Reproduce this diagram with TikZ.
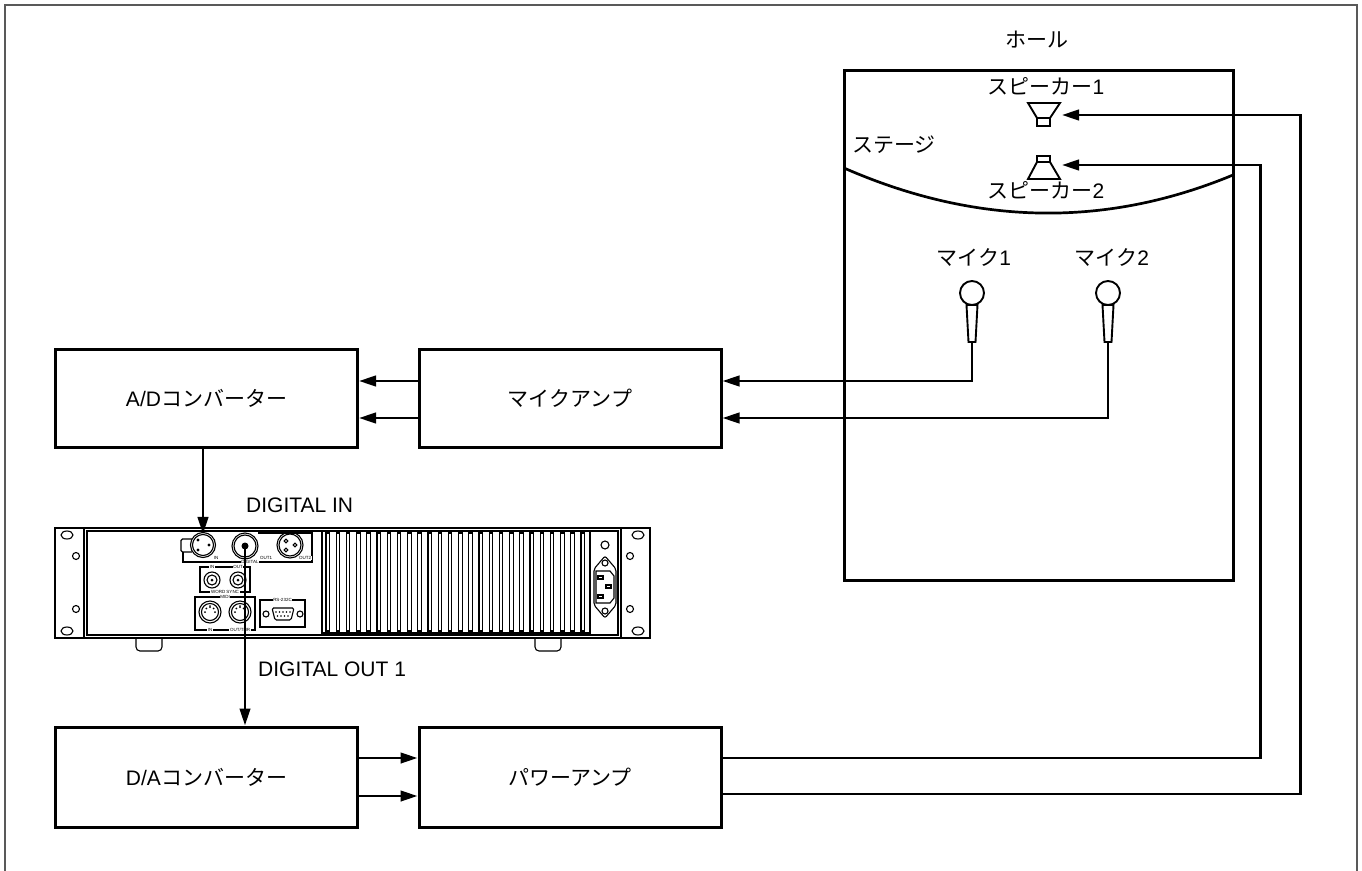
\documentclass[tikz,border=0pt]{standalone}
\usepackage{fontspec}
\setmainfont{Liberation Sans}
\newfontfamily\jp{Noto Sans CJK JP}
\usetikzlibrary{arrows.meta,calc}
\begin{document}
\begin{tikzpicture}[x=1pt,y=-1pt,
  blk/.style={draw,line width=3pt,minimum width=302pt,minimum height=98pt,inner sep=0pt,font=\fontsize{21}{24}\selectfont},
  wire/.style={line width=2.7pt},
  arr/.style={line width=2.7pt,-{Triangle[length=17pt,width=10.5pt]}},
  dev/.style={line width=1.1pt},
  sym/.style={line width=1.9pt},
  lbl/.style={font=\fontsize{21}{24}\selectfont,inner sep=0pt},
  tiny/.style={font=\fontsize{4.5}{5}\selectfont,inner sep=0.6pt,fill=white},
]
\useasboundingbox (0,0) rectangle (1362,870);
\draw[line width=2pt,draw=black!65] (5,880) -- (5,5) -- (1357,5) -- (1357,880);

% blocks
\node[blk] (ad) at (206.5,398) {A/D{\jp コンバーター}};
\node[blk] (micamp) at (570,398) {\jp マイクアンプ};
\node[blk,minimum height=100pt] (da) at (206.5,777) {D/A{\jp コンバーター}};
\node[blk,minimum height=100pt] (pa) at (570,777) {\jp パワーアンプ};

% hall
\node[draw,line width=3pt,minimum width=389pt,minimum height=510pt,inner sep=0pt] (hall) at (1038.5,325) {};
\node[lbl] (hallname) at (1037,40) {\jp ホール};
\draw[wire] (844,168) .. controls (975.7,225.7) and (1105.3,228) .. (1233,175);
\node[lbl] (stage) at (894,145) {\jp ステージ};

% speakers
\draw[sym] (1028,103) -- (1060,103) -- (1050,118) -- (1037,118) -- cycle;
\draw[sym] (1037,118) rectangle (1050,126);
\draw[sym] (1037,156) rectangle (1050,162);
\draw[sym] (1037,162) -- (1050,162) -- (1060,179) -- (1028,179) -- cycle;
\coordinate (s1) at (1062,115);
\coordinate (s2) at (1062,165);
\node[lbl] (sp1) at (1046,86) {{\jp スピーカー}1};
\node[lbl] (sp2) at (1046,190) {{\jp スピーカー}2};

% mics
\node[draw,circle,sym,minimum size=24pt,inner sep=0pt] (mic1) at (972,293) {};
\draw[sym] (966.5,305) -- (977.5,305) -- (975.5,342) -- (968.5,342) -- cycle;
\coordinate (m1) at (972,342);
\node[draw,circle,sym,minimum size=24pt,inner sep=0pt] (mic2) at (1108,293) {};
\draw[sym] (1102.5,305) -- (1113.5,305) -- (1111.5,342) -- (1104.5,342) -- cycle;
\coordinate (m2) at (1108,342);
\node[lbl] (mic1l) at (974,257) {{\jp マイク}1};
\node[lbl] (mic2l) at (1112,257) {{\jp マイク}2};

% connections
\draw[arr] (m1) |- ($(micamp.east)+(0,-17)$);
\draw[arr] (m2) |- ($(micamp.east)+(0,20)$);
\draw[arr] ($(micamp.west)+(0,-17)$) -- ($(ad.east)+(0,-17)$);
\draw[arr] ($(micamp.west)+(0,20)$) -- ($(ad.east)+(0,20)$);
\draw[arr] ($(da.east)+(0,-19)$) -- ($(pa.west)+(0,-19)$);
\draw[arr] ($(da.east)+(0,19)$) -- ($(pa.west)+(0,19)$);
\draw[arr] ($(pa.east)+(0,17)$) -- ++(578,0) |- (s1);
\draw[arr] ($(pa.east)+(0,-19)$) -- ++(538,0) |- (s2);

% ---------- device rear panel ----------
\draw[line width=1.5pt] (55,528) rectangle (650,638);
\draw[dev] (84,528) rectangle (621,638);
\draw[dev] (87,531) rectangle (618,635);
\foreach \x in {67,638} {
  \draw[dev] (\x,535) ellipse (6 and 4);
  \draw[dev] (\x,631) ellipse (6 and 4);
}
\foreach \x in {76,630} {
  \draw[dev] (\x,556) circle (3.5);
  \draw[dev] (\x,609) circle (3.5);
}
\draw[dev,rounded corners=4pt] (136,638) -- (136,651) -- (162,651) -- (162,638);
\draw[dev,rounded corners=4pt] (535,638) -- (535,651) -- (561,651) -- (561,638);

% digital frame
\draw[dev] (183,552) -- (183,562) -- (312,562) -- (312,533) -- (258,533);
\node[tiny] at (216,558) {IN};
\node[tiny] at (250,562) {DIGITAL};
\node[tiny] at (266,558) {OUT1};
\node[tiny] at (305,558) {OUT2};
% XLR in
\draw[dev,rounded corners=1.5pt] (192,539) -- (181,539) -- (181,552) -- (192,552);
\node[draw,circle,dev,fill=white,minimum size=25pt,inner sep=0pt] (xin) at (203,545) {};
\draw[dev] (203,545) circle (10.5);
\fill (198,540) circle (1.6) (209,545) circle (1.6) (198,550) circle (1.6);
% XLR out1
\node[draw,circle,dev,minimum size=26pt,inner sep=0pt] (xout) at (245,546) {};
\draw[dev] (245,546) circle (11);
\fill (xout.center) circle (3.5);
% XLR out2
\node[draw,circle,dev,minimum size=26pt,inner sep=0pt] (xout2) at (290,545) {};
\draw[dev] (290,545) circle (11);
\draw[dev] (286,541) circle (1.8) (295,545) circle (1.8) (286,550) circle (1.8);

% word sync
\draw[dev] (200,567) rectangle (250,592);
\node[tiny] at (212,567) {IN};
\node[tiny] at (238,567) {OUT};
\node[tiny] at (225,592) {WORD SYNC};
\foreach \x in {212,238} {
  \draw[dev] (\x,580) circle (8) (\x,580) circle (5);
  \fill (\x,580) circle (1.5);
}
% midi
\draw[dev] (195,597) rectangle (255,630);
\node[tiny] at (225,597) {MIDI};
\node[tiny] at (210,630) {IN};
\node[tiny] at (240,630) {OUT/THR};
\foreach \x in {210,240} {
  \draw[dev] (\x,612) circle (11) (\x,612) circle (8.5);
  \foreach \a in {180,225,270,315,0} \fill ($(\x,612)+(\a:5)$) circle (1);
  \fill ($(\x,612)+(0,-6)$) circle (0.8);
}
% rs-232c
\draw[dev] (260,600) rectangle (305,627);
\node[tiny] at (282.5,600) {RS-232C};
\draw[dev,rounded corners=1.5pt] (272,608) -- (294,608) -- (291,620) -- (275,620) -- cycle;
\foreach \x in {276,279.5,283,286.5,290} \fill (\x,612) circle (0.9);
\foreach \x in {277.5,281,284.5,288} \fill (\x,616) circle (0.9);
\draw[dev] (266,614) circle (3) (300,614) circle (3);

% heatsink
\draw[dev] (322,531) rectangle (590,633);
\foreach \i in {0,...,25} \draw[dev] ({326+\i*10.2},533) rectangle ++(3.5,98);

% IEC inlet
\draw[dev] (605,545) circle (4);
\draw[dev,rounded corners=2pt] (605,556) -- (594,569) -- (594,605) -- (605,618) -- (616,605) -- (616,569) -- cycle;
\draw[dev] (605,563) circle (3) (605,611) circle (3);
\draw[dev] (596,571) -- (610,571) -- (614,576) -- (614,598) -- (610,603) -- (596,603) -- cycle;
\draw[dev] (598,576) rectangle (603,579) (606,585) rectangle (611,588) (598,595) rectangle (603,598);

% digital in / out
\draw[arr] (ad.south -| xin) -- ($(xin.north)+(0,2)$);
\node[lbl,anchor=west] (din) at (246,505) {DIGITAL IN};
\draw[arr] (xout.center) -- (da.north -| xout);
\node[lbl,anchor=west] (dout) at (258,669) {DIGITAL OUT 1};
\end{tikzpicture}
\end{document}
